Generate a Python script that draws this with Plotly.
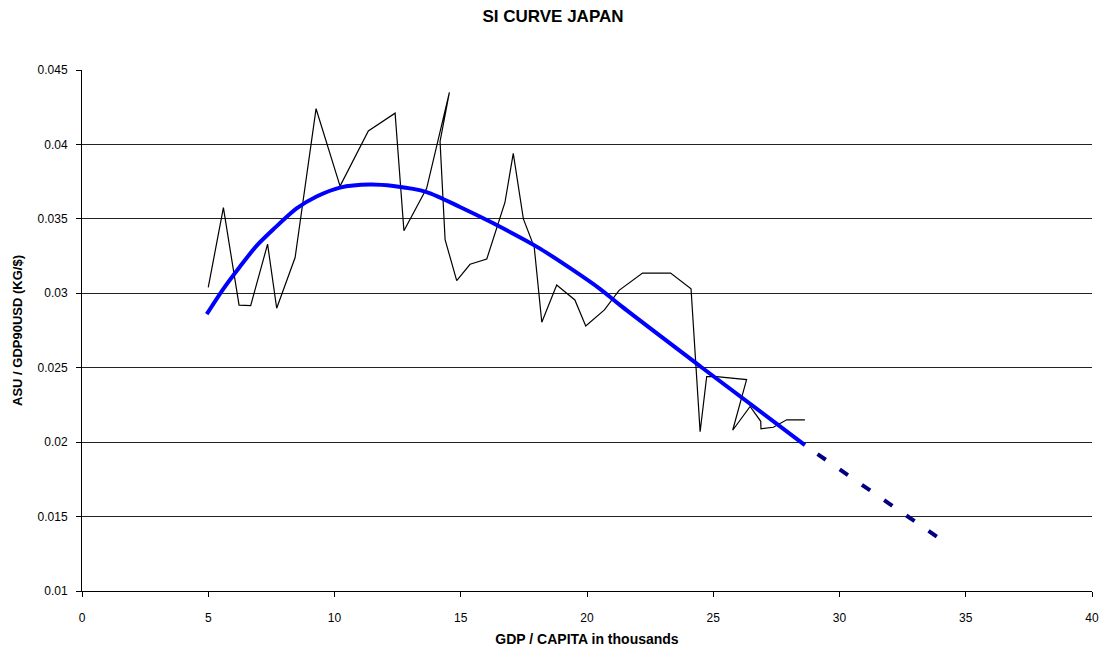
import plotly.graph_objects as go

# GDP per capita (thousands) vs steel intensity, Japan
gdp_per_capita = [5.0, 5.6, 6.22, 6.68, 7.35, 7.71, 8.44, 9.27, 10.22, 11.34,
                  12.40, 12.75, 13.65, 14.55, 14.18, 14.38, 14.84, 15.37, 16.03, 16.75,
                  17.08, 17.48, 17.91, 18.21, 18.80, 19.52, 19.95, 20.69, 21.27, 22.20,
                  23.31, 24.12, 24.48, 24.74, 25.13, 26.32, 25.77, 26.46, 26.88, 26.89,
                  27.38, 27.91, 28.63]
steel_intensity = [0.0304, 0.03575, 0.0292, 0.02917, 0.0333, 0.0290, 0.0324, 0.0424, 0.0372, 0.0409,
                   0.0421, 0.0342, 0.03705, 0.0435, 0.0402, 0.0336, 0.03085, 0.03195, 0.0323, 0.0361,
                   0.0394, 0.0350, 0.0331, 0.02805, 0.03056, 0.02955, 0.0278, 0.02888, 0.0302, 0.03136,
                   0.03136, 0.0303, 0.0207, 0.0244, 0.0244, 0.0242, 0.0208, 0.0224, 0.0214, 0.0209,
                   0.0210, 0.0215, 0.0215]

# Smoothed SI curve
trend_x = [4.94, 5.60, 6.26, 6.92, 7.58, 8.50, 9.29, 10.22, 11.41, 12.33, 13.65,
           14.97, 16.29, 18.14, 20.51, 21.31, 24.48, 28.63]
trend_y = [0.0286, 0.0303, 0.0318, 0.0332, 0.0343, 0.0357, 0.0365, 0.0371, 0.0373, 0.0372, 0.0368,
           0.0358, 0.0347, 0.0330, 0.0303, 0.0292, 0.0251, 0.0198]

# Projection beyond the observed range
proj_x = [29.13, 33.9]
proj_y = [0.0192, 0.0136]

y_ticks = [0.01, 0.015, 0.02, 0.025, 0.03, 0.035, 0.04, 0.045]
y_tick_text = ["0.01", "0.015", "0.02", "0.025", "0.03", "0.035", "0.04", "0.045"]
x_ticks = [0, 5, 10, 15, 20, 25, 30, 35, 40]

FONT = "Liberation Sans, Arial, sans-serif"

fig = go.Figure()
fig.add_trace(go.Scatter(x=gdp_per_capita, y=steel_intensity, mode="lines",
                         line=dict(color="black", width=1.2), hoverinfo="x+y"))
fig.add_trace(go.Scatter(x=trend_x, y=trend_y, mode="lines",
                         line=dict(color="#0000FF", width=4, shape="spline", smoothing=0.8)))
fig.add_trace(go.Scatter(x=proj_x, y=proj_y, mode="lines",
                         line=dict(color="#000080", width=4, dash="10px,17px")))

fig.update_layout(
    width=1106, height=652,
    margin=dict(l=82, r=14, t=70, b=61),
    paper_bgcolor="white", plot_bgcolor="white",
    showlegend=False,
    font=dict(family=FONT, size=12, color="black"),
    title=dict(text="<b>SI CURVE JAPAN</b>", x=0.5, xanchor="center",
               y=0.975, yanchor="middle", font=dict(family=FONT, size=17, color="black")),
    xaxis=dict(range=[0, 40], tickvals=x_ticks, showgrid=False, zeroline=False,
               showline=True, linecolor="black", linewidth=1, automargin=False,
               ticks="outside", ticklen=5, tickcolor="black", ticklabelstandoff=11,
               title=dict(text="<b>GDP / CAPITA in thousands</b>", standoff=9,
                          font=dict(family=FONT, size=14))),
    yaxis=dict(range=[0.01, 0.045], tickvals=y_ticks, ticktext=y_tick_text,
               showgrid=True, gridcolor="#222222", gridwidth=1, zeroline=False,
               showline=True, linecolor="black", linewidth=1, automargin=False,
               ticks="outside", ticklen=5, tickcolor="black", ticklabelstandoff=6,
               title=dict(text="<b>ASU / GDP90USD (KG/$)</b>", standoff=12,
                          font=dict(family=FONT, size=13))),
)

fig.write_html("out.html")
